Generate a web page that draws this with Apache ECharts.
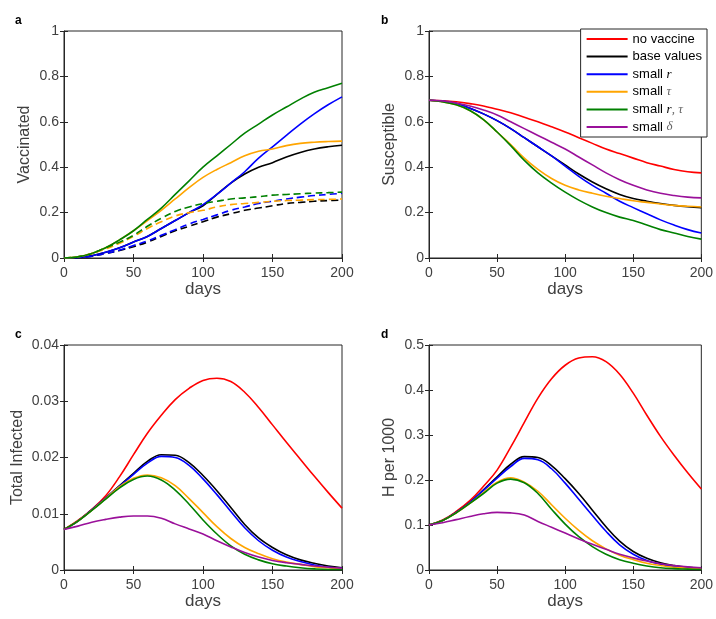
<!DOCTYPE html>
<html>
<head>
<meta charset="utf-8">
<script src="https://cdn.jsdelivr.net/npm/echarts@6/dist/echarts.min.js"></script>
<style>
  html, body { margin: 0; padding: 0; background: #fff; }
  #chart { width: 716px; height: 619px; }
</style>
</head>
<body>
<div id="chart"></div>
<script>
/* days sampled every 10 */
var days = [0,10,20,30,40,50,60,70,80,90,100,110,120,130,140,150,160,170,180,190,200];

/* a: vaccinated, solid and dashed */
var vacBase   = [0,0.002,0.01,0.025,0.045,0.07,0.095,0.13,0.165,0.2,0.23,0.28,0.33,0.37,0.4,0.42,0.445,0.465,0.48,0.49,0.497];
var vacR      = [0,0.002,0.01,0.025,0.045,0.07,0.095,0.13,0.165,0.2,0.235,0.28,0.33,0.38,0.44,0.49,0.54,0.59,0.635,0.675,0.71];
var vacTau    = [0,0.005,0.02,0.045,0.08,0.12,0.165,0.21,0.26,0.31,0.355,0.39,0.42,0.45,0.47,0.48,0.495,0.505,0.51,0.513,0.515];
var vacRTau   = [0,0.005,0.02,0.045,0.08,0.12,0.17,0.22,0.28,0.34,0.4,0.45,0.5,0.55,0.59,0.63,0.665,0.7,0.73,0.75,0.77];
var vacBase2  = [0,0.002,0.008,0.02,0.033,0.05,0.07,0.095,0.12,0.14,0.16,0.18,0.195,0.21,0.22,0.23,0.24,0.245,0.25,0.253,0.255];
var vacR2     = [0,0.002,0.008,0.02,0.035,0.055,0.075,0.1,0.125,0.15,0.17,0.19,0.21,0.225,0.24,0.25,0.26,0.268,0.275,0.28,0.285];
var vacTau2   = [0,0.005,0.02,0.04,0.065,0.095,0.13,0.16,0.185,0.2,0.21,0.225,0.235,0.24,0.245,0.25,0.253,0.255,0.257,0.258,0.26];
var vacRTau2  = [0,0.005,0.02,0.045,0.07,0.1,0.14,0.175,0.205,0.225,0.24,0.25,0.26,0.265,0.27,0.277,0.28,0.283,0.286,0.288,0.29];

/* b: susceptible */
var susNone   = [0.695,0.693,0.688,0.68,0.67,0.655,0.64,0.62,0.6,0.578,0.555,0.53,0.505,0.48,0.46,0.44,0.42,0.405,0.39,0.38,0.375];
var susBase   = [0.695,0.69,0.68,0.66,0.635,0.605,0.57,0.53,0.49,0.45,0.41,0.37,0.335,0.305,0.28,0.262,0.25,0.24,0.232,0.226,0.222];
var susR      = [0.695,0.69,0.68,0.66,0.635,0.605,0.57,0.53,0.49,0.45,0.405,0.36,0.32,0.285,0.25,0.222,0.195,0.168,0.145,0.125,0.11];
var susTau    = [0.695,0.688,0.675,0.65,0.61,0.555,0.5,0.44,0.39,0.35,0.32,0.3,0.285,0.272,0.262,0.252,0.245,0.238,0.232,0.228,0.225];
var susRTau   = [0.695,0.688,0.675,0.65,0.61,0.555,0.495,0.43,0.375,0.33,0.29,0.255,0.225,0.2,0.18,0.165,0.145,0.125,0.11,0.095,0.083];
var susDelta  = [0.695,0.692,0.683,0.67,0.652,0.63,0.6,0.57,0.54,0.51,0.48,0.445,0.41,0.375,0.345,0.32,0.3,0.285,0.275,0.268,0.265];

/* c: total infected */
var infNone   = [0.0072,0.0088,0.0108,0.0132,0.0166,0.0205,0.0243,0.0275,0.0303,0.0323,0.0337,0.0341,0.0335,0.0316,0.0289,0.0258,0.0227,0.0197,0.0167,0.0138,0.011];
var infBase   = [0.0072,0.0087,0.0107,0.0128,0.015,0.0172,0.0193,0.0205,0.0204,0.0191,0.0168,0.0141,0.0111,0.0081,0.0057,0.004,0.0027,0.0018,0.0012,0.0007,0.0004];
var infR      = [0.0072,0.0087,0.0107,0.0128,0.0149,0.017,0.019,0.0202,0.02,0.0186,0.0162,0.0134,0.0104,0.0075,0.0052,0.0035,0.0023,0.0015,0.0009,0.0005,0.0003];
var infTau    = [0.0072,0.0087,0.0106,0.0127,0.0148,0.0163,0.0169,0.0164,0.015,0.0127,0.0102,0.0077,0.0056,0.004,0.0029,0.002,0.0014,0.001,0.0006,0.0004,0.0002];
var infRTau   = [0.0072,0.0087,0.0106,0.0126,0.0146,0.0161,0.0167,0.016,0.0142,0.0117,0.0089,0.0064,0.0043,0.0028,0.0018,0.0011,0.0007,0.0004,0.0002,0.0001,0.0001];
var infDelta  = [0.0072,0.0078,0.0085,0.009,0.0094,0.0096,0.0096,0.0092,0.0082,0.0073,0.0064,0.0052,0.0041,0.0031,0.0023,0.0017,0.0013,0.001,0.0007,0.0005,0.0003];

/* d: H per 1000 */
var hNone     = [0.1,0.111,0.13,0.154,0.186,0.222,0.273,0.328,0.382,0.425,0.455,0.471,0.474,0.463,0.435,0.393,0.344,0.297,0.255,0.216,0.18];
var hBase     = [0.1,0.11,0.128,0.15,0.178,0.207,0.235,0.252,0.25,0.232,0.203,0.17,0.133,0.096,0.064,0.041,0.026,0.016,0.01,0.006,0.004];
var hR        = [0.1,0.11,0.128,0.15,0.177,0.204,0.23,0.248,0.245,0.225,0.193,0.157,0.121,0.086,0.056,0.035,0.021,0.013,0.008,0.005,0.003];
var hTau      = [0.1,0.11,0.127,0.148,0.172,0.195,0.205,0.195,0.175,0.145,0.115,0.088,0.065,0.047,0.033,0.023,0.015,0.01,0.006,0.004,0.002];
var hRTau     = [0.1,0.11,0.127,0.148,0.17,0.193,0.202,0.194,0.17,0.135,0.102,0.074,0.052,0.035,0.023,0.015,0.009,0.005,0.003,0.002,0.001];
var hDelta    = [0.1,0.105,0.112,0.119,0.125,0.128,0.127,0.122,0.108,0.095,0.082,0.069,0.057,0.046,0.035,0.027,0.02,0.014,0.01,0.007,0.005];

var xTicks = {min: 0, max: 200, interval: 50};
var yRanges = [
  {min: 0, max: 1, interval: 0.2, name: 'Vaccinated', gap: 31},
  {min: 0, max: 1, interval: 0.2, name: 'Susceptible', gap: 31},
  {min: 0, max: 0.04, interval: 0.01, name: 'Total Infected', gap: 38},
  {min: 0, max: 0.5, interval: 0.1, name: 'H per 1000', gap: 31}
];

var names = ['no vaccine', 'base values', 'small r', 'small \u03c4', 'small r,\u03c4', 'small \u03b4'];
var colors = ['#ff0000', '#000000', '#0000ff', '#ffa500', '#008000', '#9a109a'];
var legendText = {
  'no vaccine': 'no vaccine',
  'base values': 'base values',
  'small r': 'small {i|r}',
  'small \u03c4': 'small {g|\u03c4}',
  'small r,\u03c4': 'small {i|r}{g|, \u03c4}',
  'small \u03b4': 'small {g|\u03b4}'
};

var font = 'Liberation Sans, Arial, sans-serif';
var axisColor = '#262626';
var textColor = '#404040';

function pts(vals) {
  return days.map(function (d, i) { return [d, vals[i]]; });
}

var grids = [
  {left: 64, top: 31, width: 278, height: 227},
  {left: 429, top: 31, width: 278, height: 227},
  {left: 64, top: 345, width: 278, height: 225},
  {left: 429, top: 345, width: 278, height: 225}
];
grids.forEach(function (g) {
  g.show = true;
  g.borderColor = axisColor;
  g.borderWidth = 1;
  g.backgroundColor = '#fff';
});

var xAxes = [], yAxes = [];
grids.forEach(function (g, i) {
  var yr = yRanges[i];
  xAxes.push({
    gridIndex: i, type: 'value', position: 'bottom',
    min: xTicks.min, max: xTicks.max, interval: xTicks.interval,
    name: 'days', nameLocation: 'middle', nameGap: 21,
    nameTextStyle: {fontFamily: font, fontSize: 17, color: textColor},
    axisLine: {show: true, lineStyle: {color: axisColor}},
    axisTick: {inside: true, length: 4, lineStyle: {color: axisColor}},
    axisLabel: {fontFamily: font, fontSize: 14, color: textColor, margin: 8},
    splitLine: {show: false}
  });
  xAxes.push({
    gridIndex: i, type: 'value', position: 'top',
    min: xTicks.min, max: xTicks.max, interval: xTicks.interval,
    axisLine: {show: false},
    axisTick: {inside: true, length: 4, lineStyle: {color: axisColor}},
    axisLabel: {show: false}, splitLine: {show: false}
  });
  yAxes.push({
    gridIndex: i, type: 'value', position: 'left',
    min: yr.min, max: yr.max, interval: yr.interval,
    name: yr.name, nameLocation: 'middle', nameGap: yr.gap, nameRotate: 90,
    nameTextStyle: {fontFamily: font, fontSize: 16, color: textColor},
    axisLine: {show: true, lineStyle: {color: axisColor}},
    axisTick: {inside: true, length: 4, lineStyle: {color: axisColor}},
    axisLabel: {fontFamily: font, fontSize: 14, color: textColor, margin: 5},
    splitLine: {show: false}
  });
  yAxes.push({
    gridIndex: i, type: 'value', position: 'right',
    min: yr.min, max: yr.max, interval: yr.interval,
    axisLine: {show: false},
    axisTick: {inside: true, length: 4, lineStyle: {color: axisColor}},
    axisLabel: {show: false}, splitLine: {show: false}
  });
});

function line(panel, name, color, vals, dashed) {
  return {
    type: 'line', name: name,
    xAxisIndex: panel * 2, yAxisIndex: panel * 2,
    data: pts(vals), smooth: 0.4,
    symbol: 'none', showSymbol: false,
    lineStyle: {color: color, width: 1.6, type: dashed ? [7, 4] : 'solid'},
    itemStyle: {color: color},
    z: 3
  };
}

var series = [
  /* a */
  line(0, 'base values', colors[1], vacBase),
  line(0, 'small r', colors[2], vacR),
  line(0, 'small \u03c4', colors[3], vacTau),
  line(0, 'small r,\u03c4', colors[4], vacRTau),
  line(0, 'base values ', colors[1], vacBase2, true),
  line(0, 'small r ', colors[2], vacR2, true),
  line(0, 'small \u03c4 ', colors[3], vacTau2, true),
  line(0, 'small r,\u03c4 ', colors[4], vacRTau2, true),
  /* b */
  line(1, names[0], colors[0], susNone),
  line(1, names[1], colors[1], susBase),
  line(1, names[2], colors[2], susR),
  line(1, names[3], colors[3], susTau),
  line(1, names[4], colors[4], susRTau),
  line(1, names[5], colors[5], susDelta),
  /* c */
  line(2, names[0], colors[0], infNone),
  line(2, names[1], colors[1], infBase),
  line(2, names[2], colors[2], infR),
  line(2, names[3], colors[3], infTau),
  line(2, names[4], colors[4], infRTau),
  line(2, names[5], colors[5], infDelta),
  /* d */
  line(3, names[0], colors[0], hNone),
  line(3, names[1], colors[1], hBase),
  line(3, names[2], colors[2], hR),
  line(3, names[3], colors[3], hTau),
  line(3, names[4], colors[4], hRTau),
  line(3, names[5], colors[5], hDelta)
];

var chart = echarts.init(document.getElementById('chart'));
chart.setOption({
  animation: false,
  backgroundColor: '#fff',
  grid: grids,
  xAxis: xAxes,
  yAxis: yAxes,
  legend: {
    data: names,
    orient: 'vertical',
    right: 9, top: 29,
    padding: [3, 5, 3, 6],
    itemGap: 3.6,
    itemWidth: 41, itemHeight: 2,
    icon: 'rect',
    backgroundColor: '#fff',
    borderColor: axisColor, borderWidth: 1,
    selectedMode: false,
    formatter: function (name) { return legendText[name]; },
    textStyle: {
      fontFamily: font, fontSize: 13, color: '#000', lineHeight: 14,
      rich: {
        i: {fontFamily: 'Liberation Serif, serif', fontStyle: 'italic', fontSize: 13, color: '#000', lineHeight: 14},
        g: {fontFamily: 'Liberation Serif, serif', fontStyle: 'italic', fontSize: 13, color: '#666', lineHeight: 14}
      }
    }
  },
  graphic: [
    {type: 'text', left: 15, top: 15, style: {text: 'a', font: 'bold 12px ' + font, fill: '#000'}},
    {type: 'text', left: 381, top: 15, style: {text: 'b', font: 'bold 12px ' + font, fill: '#000'}},
    {type: 'text', left: 15, top: 329, style: {text: 'c', font: 'bold 12px ' + font, fill: '#000'}},
    {type: 'text', left: 381, top: 329, style: {text: 'd', font: 'bold 12px ' + font, fill: '#000'}}
  ],
  series: series
});
</script>
</body>
</html>
